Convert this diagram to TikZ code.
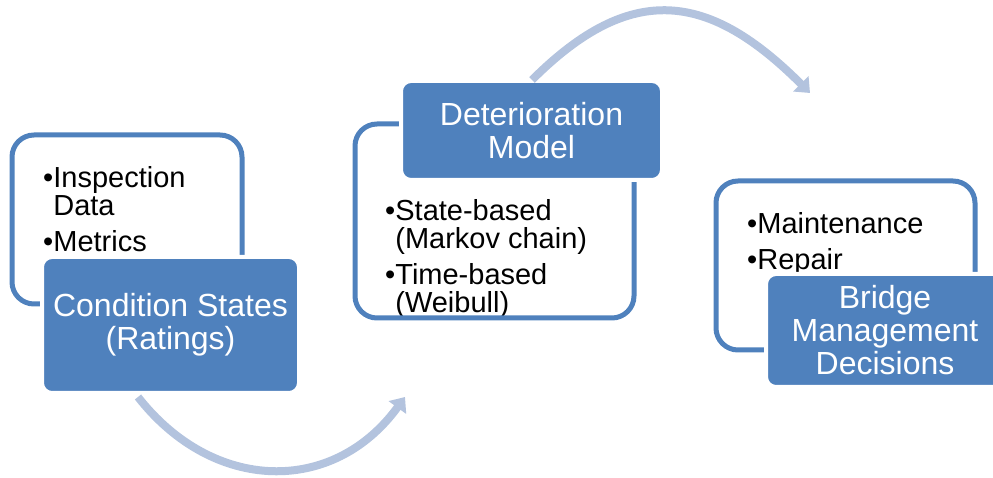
\documentclass[tikz,border=0pt]{standalone}
\usepackage{fontspec}
\setmainfont{Liberation Sans}
\usetikzlibrary{arrows.meta}

\definecolor{stageblue}{HTML}{4F81BD}
\definecolor{flowblue}{HTML}{B3C3DE}

\tikzset{
  listbox/.style={draw=stageblue, line width=5pt, rounded corners=22pt},
  stagebox/.style={fill=stageblue, draw=white, line width=4pt, rounded corners=10pt,
    text=white, align=center, inner sep=0pt, font=\fontsize{32}{33}\selectfont},
  % anchored at the baseline of the last line
  listtext/.style={anchor=base west, inner sep=0pt, align=left,
    font=\fontsize{29}{28}\selectfont},
  flow/.style={draw=flowblue, line width=8pt, -{Triangle[width=21pt,length=13pt]}}
}

\begin{document}
\begin{tikzpicture}[x=1pt,y=1pt]
  \useasboundingbox (0,0) rectangle (993,478);

  % First stage: inputs and condition states
  \node[listtext] (inputs) at (43,226)
    {\textbullet Inspection\\\phantom{\textbullet}Data\\[8pt]\textbullet Metrics};
  \node[listbox, minimum width=230pt, minimum height=169pt] (inputsbox) at (127,258.5) {};
  \node[stagebox, minimum width=257pt, minimum height=136pt] (condition) at (170.5,153)
    {Condition States\\(Ratings)};

  % Second stage: the deterioration model
  \node[listtext] (methods) at (385,165)
    {\textbullet State-based\\\phantom{\textbullet}(Markov chain)\\[8pt]\textbullet Time-based\\\phantom{\textbullet}(Weibull)};
  \node[listbox, minimum width=279pt, minimum height=194pt] (methodsbox) at (494.5,257) {};
  \node[stagebox, minimum width=261pt, minimum height=99pt] (model) at (531.5,347.5)
    {Deterioration\\Model};

  % Third stage: management decisions
  \node[listtext] (actions) at (747,208)
    {\textbullet Maintenance\\[8pt]\textbullet Repair};
  \node[listbox, minimum width=259pt, minimum height=169pt] (actionsbox) at (845.5,212.5) {};
  \node[stagebox, minimum width=238pt, minimum height=113pt] (decisions) at (885,147.5)
    {Bridge\\Management\\Decisions};

  % Curved arrows between the stages
  \coordinate (c1) at (138,81);
  \coordinate (c2) at (405,81);
  \draw[flow] (c1) to[out=-52, in=-126, looseness=1.17] (c2);

  \coordinate (d1) at (532,398);
  \coordinate (d2) at (810,385);
  \draw[flow] (d1) to[out=45, in=135, looseness=1.3] (d2);

\end{tikzpicture}
\end{document}
